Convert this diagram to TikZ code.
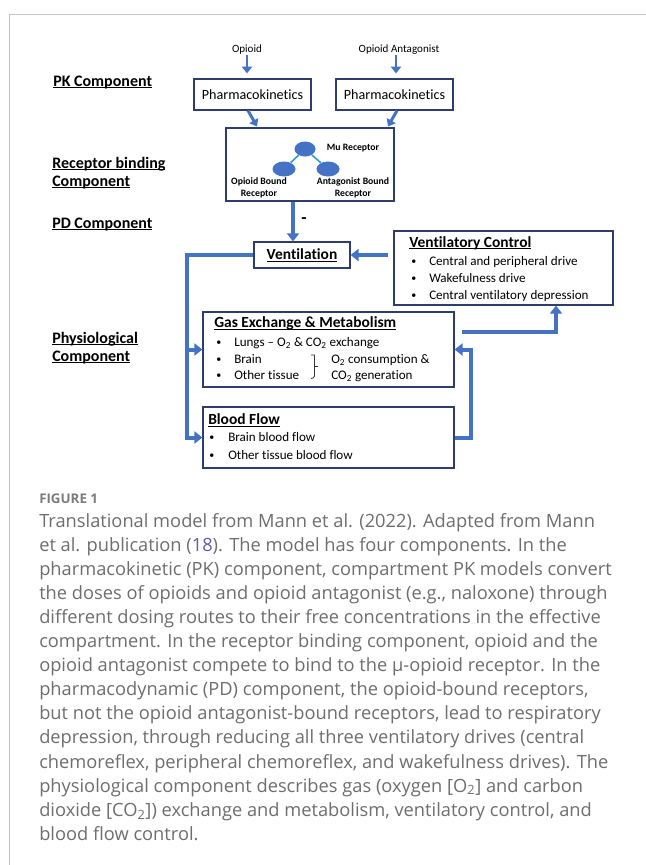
\documentclass[tikz,border=0pt]{standalone}
\usepackage{fontspec}
\setmainfont{Carlito}[Ligatures=NoCommon]
\newfontfamily\capfont{Open Sans}
\usetikzlibrary{arrows.meta,calc,shapes.geometric}
\definecolor{flowblue}{HTML}{4472C4}
\definecolor{boxline}{HTML}{2F3C6E}
\definecolor{capgray}{HTML}{6E6E6E}
\definecolor{linkblue}{HTML}{5B5EA6}
\definecolor{framegray}{HTML}{C4C4C4}
\newcommand\uln[1]{\setbox0=\hbox{#1}\leavevmode\rlap{\copy0}\rule[-1.7pt]{\wd0}{0.75pt}}
\newcommand\bul{\raisebox{0.6pt}{\fontsize{7.5}{8}\selectfont •}}
\begin{document}
\begin{tikzpicture}[x=0.75pt,y=-0.75pt,
  box/.style={draw=boxline,line width=0.9pt,inner sep=0pt},
  flowarrow/.style={draw=flowblue,line width=3pt,-{Triangle[length=6pt,width=9pt]}},
  thinarrow/.style={draw=flowblue,line width=2.2pt,-{Triangle[length=5pt,width=7.5pt]}},
  sidelbl/.style={font=\fontsize{12}{14}\selectfont\bfseries,anchor=base west,inner sep=0pt},
  title/.style={font=\fontsize{11.6}{14}\selectfont\bfseries,anchor=base west,inner sep=0pt},
  item/.style={font=\fontsize{9.8}{12}\selectfont,anchor=base west,inner sep=0pt},
  rlbl/.style={font=\fontsize{7.3}{9.5}\selectfont\bfseries,align=center,inner sep=0pt},
  capline/.style={font=\capfont\fontsize{13.7}{16}\selectfont,text=capgray,anchor=base west,inner sep=0pt},
  recep/.style={ellipse,fill=flowblue,inner sep=0pt}
]
\useasboundingbox (0,0) rectangle (646,865);
\fill[white] (0,0) rectangle (646,865);
\draw[framegray,line width=0.75pt] (646,14) -- (9,14) -- (9,865);

% left-hand component labels
\node[sidelbl] (lpk) at (53,86) {\uln{PK Component}};
\node[sidelbl] (lrb1) at (52,168) {\uln{Receptor binding}};
\node[sidelbl] (lrb2) at (52,186) {\uln{Component}};
\node[sidelbl] (lpd) at (52,228) {\uln{PD Component}};
\node[sidelbl] (lph1) at (52,343) {\uln{Physiological}};
\node[sidelbl] (lph2) at (52,361) {\uln{Component}};

% inputs
\node[font=\fontsize{8.3}{10}\selectfont,inner sep=0pt] (opioid) at (247,50) {Opioid};
\node[font=\fontsize{8.3}{10}\selectfont,inner sep=0pt] (antag) at (399,50) {Opioid Antagonist};

% PK boxes
\node[box,minimum width=117*0.75pt,minimum height=31*0.75pt,font=\fontsize{10.6}{12}\selectfont] (pk1) at (252.5,94.5) {Pharmacokinetics};
\node[box,minimum width=117*0.75pt,minimum height=31*0.75pt,font=\fontsize{10.6}{12}\selectfont] (pk2) at (394.5,94.5) {Pharmacokinetics};

% receptor box
\node[box,minimum width=168*0.75pt,minimum height=73*0.75pt] (rec) at (310,164.5) {};
\node[recep,minimum width=21*0.75pt,minimum height=15*0.75pt] (mu) at (305,149) {};
\node[recep,minimum width=23*0.75pt,minimum height=15*0.75pt] (ob) at (284,169) {};
\node[recep,minimum width=23*0.75pt,minimum height=15*0.75pt] (ab) at (328,169) {};
\draw[flowblue!70!cyan,line width=1.2pt] (mu) -- (ob);
\draw[flowblue!70!cyan,line width=1.2pt] (mu) -- (ab);
\node[rlbl] (mulbl) at (353,148) {Mu Receptor};
\node[rlbl] (oblbl) at (259,188) {Opioid Bound\\Receptor};
\node[rlbl] (ablbl) at (353,188) {Antagonist Bound\\Receptor};

% ventilation
\node[box,minimum width=96*0.75pt,minimum height=26*0.75pt,font=\fontsize{11.6}{14}\selectfont\bfseries] (vent) at (302,255) {\uln{Ventilation}};
\node[font=\fontsize{13}{14}\selectfont\bfseries,inner sep=0pt] (minus) at (304,221) {-};

% ventilatory control
\node[box,minimum width=219*0.75pt,minimum height=74*0.75pt] (vc) at (503.5,268) {};
\node[title] (vct) at (409,247) {\uln{Ventilatory Control}};
\node[item] (vc1b) at (411,265) {\bul};
\node[item] (vc1) at (429,265) {Central and peripheral drive};
\node[item] (vc2b) at (411,282) {\bul};
\node[item] (vc2) at (429,282) {Wakefulness drive};
\node[item] (vc3b) at (411,299) {\bul};
\node[item] (vc3) at (429,299) {Central ventilatory depression};

% gas exchange
\node[box,minimum width=251*0.75pt,minimum height=75*0.75pt] (gas) at (328.5,349.5) {};
\node[title] (gast) at (214,327.5) {\uln{Gas Exchange \& Metabolism}};
\node[item] (g1b) at (216,346) {\bul};
\node[item] (g1) at (234,346) {Lungs – O\textsubscript{2} \& CO\textsubscript{2} exchange};
\node[item] (g2b) at (216,363) {\bul};
\node[item] (g2) at (234,363) {Brain};
\node[item] (g3b) at (216,379) {\bul};
\node[item] (g3) at (234,379) {Other tissue};
\draw[black!80,line width=0.6pt] (311,355) -- (314.5,355) -- (314.5,376) to[out=-90,in=0] (311,378.5);
\draw[black!80,line width=0.6pt] (314.5,366) -- (318,366);
\node[item] (g4) at (331,363) {O\textsubscript{2} consumption \&};
\node[item] (g5) at (331,379) {CO\textsubscript{2} generation};

% blood flow
\node[box,minimum width=251*0.75pt,minimum height=61*0.75pt] (blood) at (328.5,437.5) {};
\node[title] (bft) at (208,424.5) {\uln{Blood Flow}};
\node[item] (b1b) at (209,441) {\bul};
\node[item] (b1) at (228,441) {Brain blood flow};
\node[item] (b2b) at (209,459) {\bul};
\node[item] (b2) at (228,459) {Other tissue blood flow};

% connectors
\draw[thinarrow] (opioid.south) -- ([yshift=3.75pt]pk1.north -| opioid.south);
\draw[thinarrow] ([xshift=-2.25pt]antag.south) -- ([xshift=-2.25pt,yshift=3.75pt]pk2.north -| antag.south);
\draw[thinarrow] ([xshift={-4.5*0.75pt}]pk1.south) -- ([xshift={-53*0.75pt},yshift=0.75pt]rec.north);
\draw[thinarrow] ([xshift={2.5*0.75pt}]pk2.south) -- ([xshift={78*0.75pt},yshift=0.75pt]rec.north);
\draw[flowarrow] ([xshift={-17*0.75pt}]rec.south) -- ([xshift={-9*0.75pt}]vent.north);

\coordinate (vv) at (388,255);
\draw[flowarrow] (vv) -- (vent.east);

\coordinate (lx) at (187,255);
\draw[flowarrow] (vent.west) -- (lx) |- (blood.west);
\draw[flowarrow] (lx |- gas.west) -- (gas.west);
\draw[flowarrow] (blood.east) -- ++(16,0) |- (gas.east);
\coordinate (gv) at (462,332);
\draw[flowarrow] (gv) -| ([xshift={52.5*0.75pt}]vc.south);

% caption
\node[font=\capfont\bfseries\fontsize{10}{12}\selectfont,text=capgray!90,anchor=base west,inner sep=0pt] (fig) at (39,503) {FIGURE 1};
\node[capline] (c1) at (39,527) {Translational model from Mann et al. (2022). Adapted from Mann};
\node[capline] (c2) at (39,551.1) {et al. publication (\textcolor{linkblue}{18}). The model has four components. In the};
\node[capline] (c3) at (39,575.2) {pharmacokinetic (PK) component, compartment PK models convert};
\node[capline] (c4) at (39,599.3) {the doses of opioids and opioid antagonist (e.g., naloxone) through};
\node[capline] (c5) at (39,623.4) {different dosing routes to their free concentrations in the effective};
\node[capline] (c6) at (39,647.5) {compartment. In the receptor binding component, opioid and the};
\node[capline] (c7) at (39,671.6) {opioid antagonist compete to bind to the μ-opioid receptor. In the};
\node[capline] (c8) at (39,695.7) {pharmacodynamic (PD) component, the opioid-bound receptors,};
\node[capline] (c9) at (39,719.8) {but not the opioid antagonist-bound receptors, lead to respiratory};
\node[capline] (c10) at (39,743.9) {depression, through reducing all three ventilatory drives (central};
\node[capline] (c11) at (39,768) {chemoreflex, peripheral chemoreflex, and wakefulness drives). The};
\node[capline] (c12) at (39,792.1) {physiological component describes gas (oxygen [O\textsubscript{2}] and carbon};
\node[capline] (c13) at (39,816.2) {dioxide [CO\textsubscript{2}]) exchange and metabolism, ventilatory control, and};
\node[capline] (c14) at (39,840.3) {blood flow control.};
\end{tikzpicture}
\end{document}
